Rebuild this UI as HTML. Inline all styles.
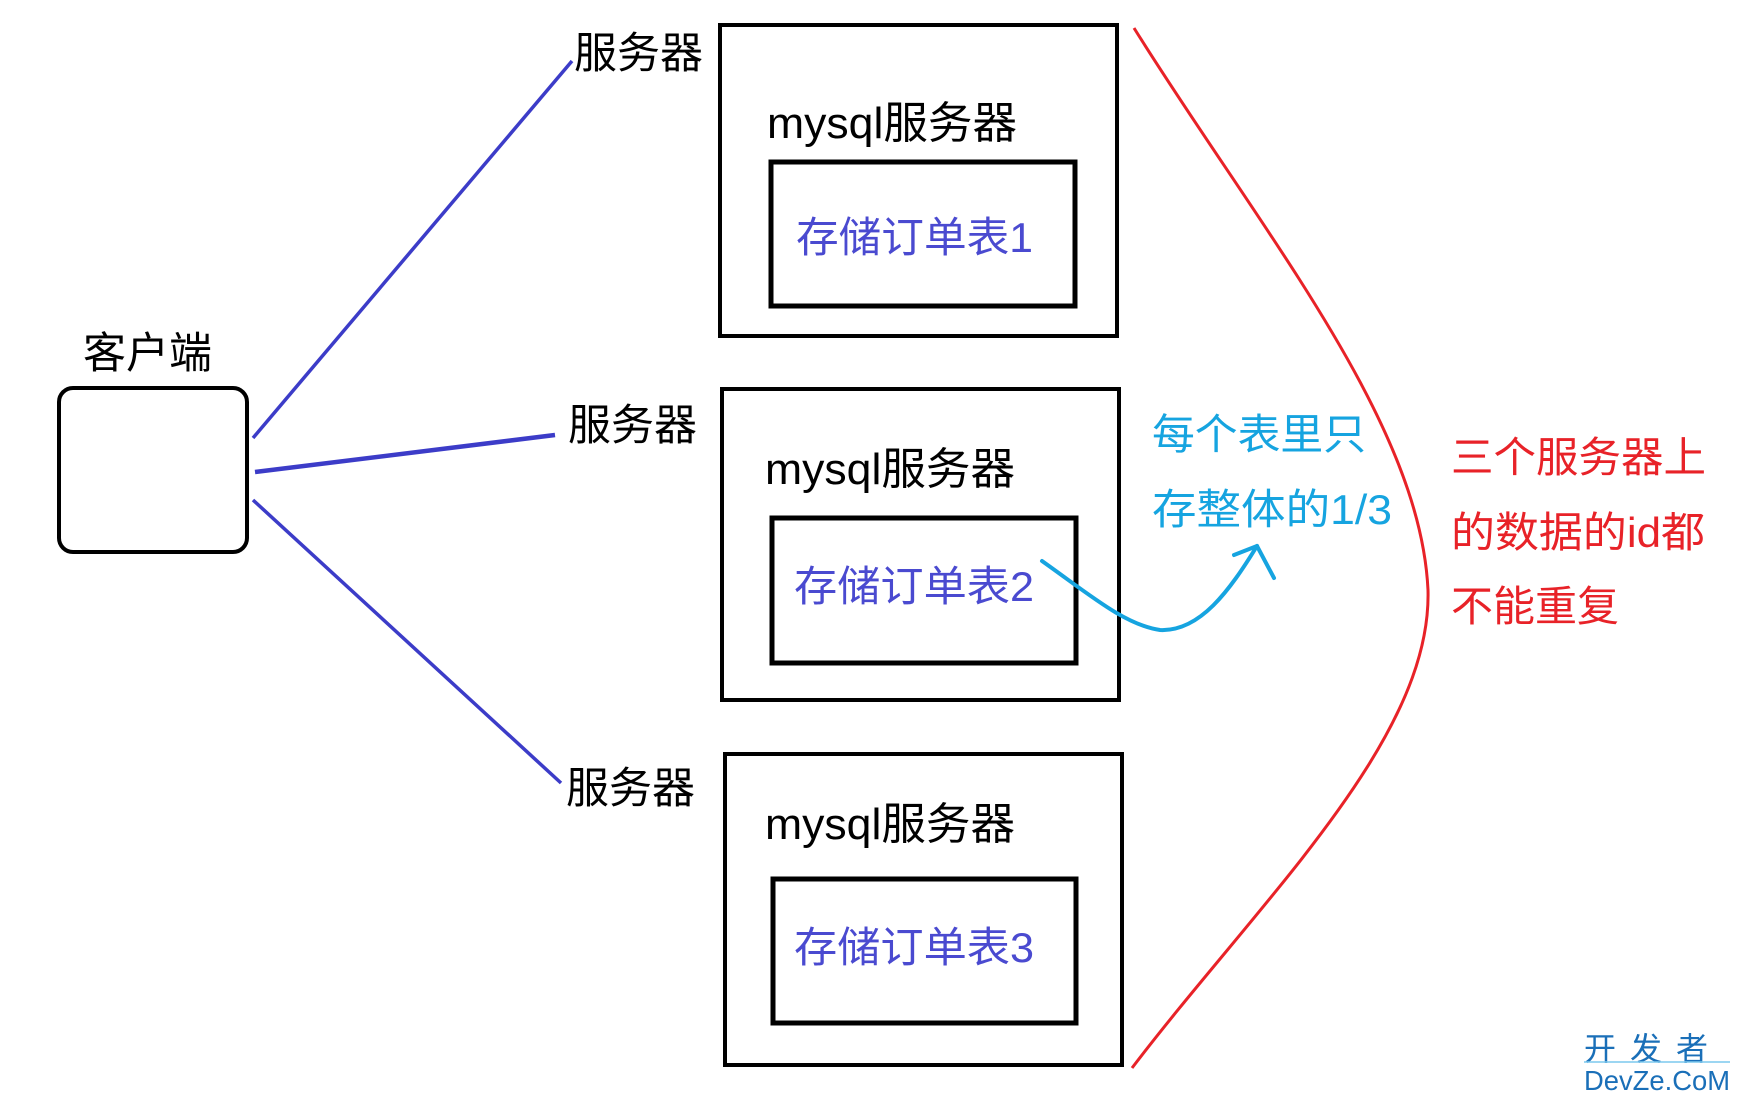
<!DOCTYPE html>
<html><head><meta charset="utf-8"><style>
html,body{margin:0;padding:0;background:#fff;}
svg{display:block;}
text{font-family:"Liberation Sans","Noto Sans CJK SC",sans-serif;}
</style></head><body>
<svg width="1740" height="1097" viewBox="0 0 1740 1097" xmlns="http://www.w3.org/2000/svg">
<rect x="0" y="0" width="1740" height="1097" fill="#fff"/>
<rect x="59" y="388" width="188" height="164" rx="14" fill="none" stroke="#000" stroke-width="4"/>
<text x="83" y="368" font-size="43" fill="#000">客户端</text>
<g stroke="#3c3cc8" stroke-width="3.5" fill="none">
<line x1="253" y1="438" x2="572" y2="61"/>
<line x1="255" y1="472" x2="555" y2="435" stroke-width="4.5"/>
<line x1="253" y1="500" x2="561" y2="783"/>
</g>
<text x="574" y="68" font-size="43" fill="#000">服务器</text>
<text x="568" y="440" font-size="43" fill="#000">服务器</text>
<text x="566" y="803" font-size="43" fill="#000">服务器</text>
<g fill="none" stroke="#000">
<rect x="720" y="25" width="397" height="311" stroke-width="4"/>
<rect x="771" y="162" width="304" height="144" stroke-width="5"/>
<rect x="722" y="389" width="397" height="311" stroke-width="4"/>
<rect x="772" y="518" width="304" height="145" stroke-width="5"/>
<rect x="725" y="754" width="397" height="311" stroke-width="4"/>
<rect x="773" y="879" width="303" height="144" stroke-width="5"/>
</g>
<g font-size="44" fill="#000">
<text x="767" y="138" textLength="250" lengthAdjust="spacingAndGlyphs">mysql服务器</text>
<text x="765" y="484" textLength="250" lengthAdjust="spacingAndGlyphs">mysql服务器</text>
<text x="765" y="839" textLength="250" lengthAdjust="spacingAndGlyphs">mysql服务器</text>
</g>
<g font-size="42" fill="#4a4ad0">
<text x="796" y="252" textLength="237" lengthAdjust="spacingAndGlyphs">存储订单表1</text>
<text x="794" y="601" textLength="240" lengthAdjust="spacingAndGlyphs">存储订单表2</text>
<text x="794" y="962" textLength="240" lengthAdjust="spacingAndGlyphs">存储订单表3</text>
</g>
<path d="M1134,28 C1260,230 1420,420 1428,590 C1432,740 1260,900 1132,1068" fill="none" stroke="#e82228" stroke-width="3"/>
<g stroke="#16a4e0" stroke-width="4" fill="none" stroke-linecap="round">
<path d="M1042,561 C1090,595 1125,625 1160,630 C1200,632 1230,590 1257,546"/>
<line x1="1257" y1="546" x2="1234" y2="555"/>
<line x1="1257" y1="546" x2="1274" y2="578"/>
</g>
<g font-size="42" fill="#16a4e0">
<text x="1152" y="449" textLength="214" lengthAdjust="spacingAndGlyphs">每个表里只</text>
<text x="1152" y="524" textLength="240" lengthAdjust="spacingAndGlyphs">存整体的1/3</text>
</g>
<g font-size="42" fill="#e82228">
<text x="1451" y="472" textLength="255" lengthAdjust="spacingAndGlyphs">三个服务器上</text>
<text x="1451" y="547" textLength="254" lengthAdjust="spacingAndGlyphs">的数据的id都</text>
<text x="1451" y="621">不能重复</text>
</g>
<text x="1584" y="1060" font-size="32" fill="#1a6fb8" letter-spacing="14">开发者</text>
<line x1="1584" y1="1062" x2="1730" y2="1062" stroke="#7cc8ee" stroke-width="1.5"/>
<text x="1584" y="1090" font-size="28" fill="#1a6fb8" textLength="146" lengthAdjust="spacingAndGlyphs">DevZe.CoM</text>
</svg>
</body></html>
